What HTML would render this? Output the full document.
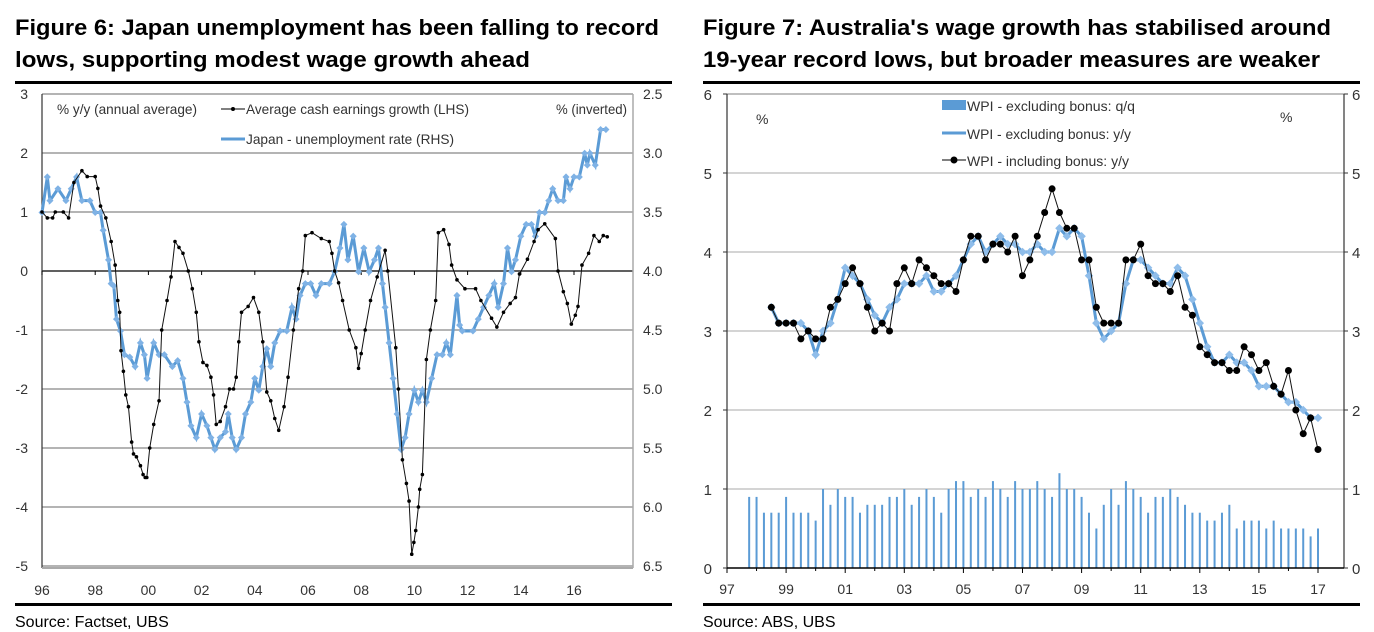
<!DOCTYPE html>
<html><head><meta charset="utf-8"><style>
body{margin:0;background:#fff;}
svg{display:block;font-family:"Liberation Sans",sans-serif;}
</style></head><body>
<svg id="root" width="1374" height="632" viewBox="0 0 1374 632">
<g font-weight="bold" font-size="22">
<text x="15" y="35" textLength="644" lengthAdjust="spacingAndGlyphs">Figure 6: Japan unemployment has been falling to record</text>
<text x="15" y="67" textLength="515" lengthAdjust="spacingAndGlyphs">lows, supporting modest wage growth ahead</text>
</g>
<g font-weight="bold" font-size="22">
<text x="703" y="35" textLength="628" lengthAdjust="spacingAndGlyphs">Figure 7: Australia's wage growth has stabilised around</text>
<text x="703" y="67" textLength="617" lengthAdjust="spacingAndGlyphs">19-year record lows, but broader measures are weaker</text>
</g>
<rect x="15" y="81" width="657" height="3" fill="#000"/>
<rect x="703" y="81" width="657" height="3" fill="#000"/>
<rect x="15" y="603" width="657" height="3" fill="#000"/>
<rect x="703" y="603" width="657" height="3" fill="#000"/>
<text x="15" y="627" font-size="16">Source:  Factset, UBS</text>
<text x="703" y="627" font-size="16">Source:  ABS, UBS</text>
<g id="c1"></g>
<g id="c2"></g>
</svg>
<script>
// ---- Chart 1 data ----
const earnDates=[1996.0,1996.2,1996.4,1996.5,1996.8,1997.0,1997.2,1997.5,1997.7,1998.0,1998.1,1998.2,1998.4,1998.6,1998.75,1998.85,1998.92,1998.97,1999.06,1999.15,1999.25,1999.37,1999.44,1999.55,1999.7,1999.8,1999.88,1999.94,2000.05,2000.2,2000.4,2000.5,2000.7,2000.85,2001.0,2001.15,2001.3,2001.5,2001.65,2001.8,2001.9,2002.05,2002.2,2002.35,2002.45,2002.55,2002.7,2002.9,2003.05,2003.2,2003.3,2003.4,2003.5,2003.75,2003.95,2004.15,2004.3,2004.45,2004.6,2004.75,2004.9,2005.1,2005.25,2005.45,2005.65,2005.8,2005.9,2006.15,2006.5,2006.8,2006.9,2007.0,2007.15,2007.3,2007.55,2007.8,2007.9,2008.0,2008.15,2008.35,2008.6,2008.9,2009.0,2009.3,2009.4,2009.55,2009.7,2009.8,2009.9,2009.98,2010.05,2010.15,2010.2,2010.3,2010.45,2010.6,2010.8,2010.9,2011.1,2011.3,2011.4,2011.6,2011.9,2012.3,2012.5,2012.9,2013.1,2013.35,2013.6,2013.8,2013.95,2014.25,2014.5,2014.65,2014.9,2015.3,2015.4,2015.6,2015.75,2015.9,2016.05,2016.15,2016.3,2016.55,2016.75,2016.95,2017.1,2017.25];
const earnings=[1.0,0.9,0.9,1.0,1.0,0.9,1.5,1.7,1.6,1.6,1.4,1.1,0.9,0.5,0.1,-0.5,-0.7,-1.35,-1.7,-2.1,-2.3,-2.9,-3.1,-3.15,-3.3,-3.45,-3.5,-3.5,-3.0,-2.6,-2.2,-1.0,-0.5,-0.1,0.5,0.4,0.3,0.0,-0.3,-0.7,-1.2,-1.55,-1.6,-1.8,-2.1,-2.6,-2.55,-2.3,-2.0,-2.0,-1.8,-1.2,-0.7,-0.6,-0.45,-0.7,-1.2,-2.05,-2.2,-2.5,-2.7,-2.3,-1.8,-1.0,-0.3,0.0,0.6,0.65,0.55,0.5,0.3,0.0,-0.2,-0.5,-1.0,-1.3,-1.65,-1.4,-1.0,-0.5,-0.1,0.35,0.0,-1.3,-2.0,-3.2,-3.6,-3.9,-4.8,-4.6,-4.4,-4.0,-3.7,-3.45,-1.5,-1.0,-0.5,0.65,0.7,0.45,0.1,-0.15,-0.3,-0.3,-0.5,-0.8,-0.95,-0.7,-0.55,-0.45,-0.05,0.2,0.5,0.7,0.8,0.55,0.0,-0.35,-0.55,-0.9,-0.75,-0.6,0.1,0.3,0.6,0.5,0.6,0.58];
const unempDates=[1996.0,1996.2,1996.3,1996.6,1996.9,1997.1,1997.3,1997.5,1997.8,1998.0,1998.2,1998.3,1998.5,1998.6,1998.7,1998.8,1998.95,1999.1,1999.3,1999.5,1999.7,1999.85,1999.95,2000.2,2000.4,2000.6,2000.9,2001.1,2001.3,2001.45,2001.6,2001.8,2002.0,2002.2,2002.35,2002.5,2002.7,2002.9,2003.0,2003.15,2003.3,2003.5,2003.65,2003.85,2004.0,2004.15,2004.3,2004.45,2004.6,2004.75,2004.95,2005.2,2005.4,2005.55,2005.7,2005.9,2006.1,2006.3,2006.5,2006.8,2007.0,2007.2,2007.35,2007.5,2007.7,2007.9,2008.1,2008.3,2008.5,2008.65,2008.8,2008.9,2009.05,2009.2,2009.35,2009.5,2009.65,2009.8,2010.0,2010.15,2010.3,2010.45,2010.65,2010.85,2011.05,2011.2,2011.35,2011.6,2011.7,2011.8,2012.2,2012.4,2012.6,2012.8,2013.0,2013.15,2013.35,2013.5,2013.65,2013.8,2014.0,2014.2,2014.4,2014.55,2014.7,2014.9,2015.05,2015.2,2015.4,2015.6,2015.7,2015.85,2016.0,2016.2,2016.4,2016.5,2016.6,2016.8,2017.0,2017.2];
const unemp=[3.5,3.2,3.4,3.3,3.4,3.3,3.2,3.4,3.4,3.5,3.5,3.65,3.9,4.1,4.12,4.4,4.5,4.7,4.72,4.8,4.6,4.7,4.9,4.6,4.7,4.7,4.8,4.75,4.9,5.1,5.3,5.4,5.2,5.3,5.4,5.5,5.4,5.35,5.2,5.4,5.5,5.4,5.2,5.1,4.9,5.0,4.8,4.65,4.8,4.6,4.5,4.5,4.3,4.4,4.2,4.1,4.1,4.2,4.1,4.1,4.0,3.8,3.6,3.9,3.7,4.0,3.8,4.0,3.9,3.8,4.1,4.3,4.6,4.9,5.2,5.5,5.4,5.2,5.0,5.1,5.0,5.1,4.9,4.7,4.7,4.6,4.7,4.2,4.45,4.5,4.5,4.4,4.3,4.2,4.1,4.3,4.1,3.8,4.0,3.9,3.7,3.6,3.6,3.7,3.5,3.5,3.4,3.3,3.4,3.4,3.2,3.3,3.2,3.2,3.0,3.1,3.0,3.1,2.8,2.8];
const c1LeftTicks=[3,2,1,0,-1,-2,-3,-4,-5];
const c1RightTicks=["2.5","3.0","3.5","4.0","4.5","5.0","5.5","6.0","6.5"];
const c1XTicks=["96","98","00","02","04","06","08","10","12","14","16"];
// ---- Chart 2 data ----
const qqStart=1997.75;
const wpiQQ=[0.9,0.9,0.7,0.7,0.7,0.9,0.7,0.7,0.7,0.6,1.0,0.8,1.0,0.9,0.9,0.7,0.8,0.8,0.8,0.9,0.9,1.0,0.8,0.9,1.0,0.9,0.7,1.0,1.1,1.1,0.9,1.0,0.9,1.1,1.0,0.9,1.1,1.0,1.0,1.1,1.0,0.9,1.2,1.0,1.0,0.9,0.7,0.5,0.8,1.0,0.8,1.1,1.0,0.9,0.7,0.9,0.9,1.0,0.9,0.8,0.7,0.7,0.6,0.6,0.7,0.8,0.5,0.6,0.6,0.6,0.5,0.6,0.5,0.5,0.5,0.5,0.4,0.5];
const yyStart=1998.5;
const wpiExYY=[3.3,3.1,3.1,3.1,3.1,3.0,2.7,3.0,3.1,3.4,3.8,3.7,3.6,3.4,3.2,3.1,3.3,3.4,3.6,3.6,3.6,3.7,3.5,3.5,3.6,3.7,3.9,4.1,4.2,4.0,4.1,4.2,4.1,4.1,4.0,4.0,4.1,4.0,4.0,4.3,4.2,4.3,4.2,3.7,3.1,2.9,3.0,3.1,3.6,3.9,3.9,3.8,3.7,3.6,3.6,3.8,3.7,3.4,3.1,2.8,2.6,2.6,2.7,2.6,2.6,2.5,2.3,2.3,2.3,2.2,2.1,2.1,2.0,1.9,1.9];
const wpiInYY=[3.3,3.1,3.1,3.1,2.9,3.0,2.9,2.9,3.3,3.4,3.6,3.8,3.6,3.3,3.0,3.1,3.0,3.6,3.8,3.6,3.9,3.8,3.7,3.6,3.6,3.5,3.9,4.2,4.2,3.9,4.1,4.1,4.0,4.2,3.7,3.9,4.2,4.5,4.8,4.5,4.3,4.3,3.9,3.9,3.3,3.1,3.1,3.1,3.9,3.9,4.1,3.7,3.6,3.6,3.5,3.7,3.3,3.2,2.8,2.7,2.6,2.6,2.5,2.5,2.8,2.7,2.5,2.6,2.3,2.2,2.5,2.0,1.7,1.9,1.5];
const c2Ticks=["0","1","2","3","4","5","6"];
const c2XTicks=["97","99","01","03","05","07","09","11","13","15","17"];

const NS="http://www.w3.org/2000/svg";
function mk(parent,tag,attrs,text){const e=document.createElementNS(NS,tag);for(const k in attrs)e.setAttribute(k,attrs[k]);if(text!==undefined)e.textContent=text;parent.appendChild(e);return e;}

// ---------- Chart 1 ----------
(function(){
const g=document.getElementById('c1');
const L=42,R=633,T=94,B=568;
const xs=y=>L+(y-1996)*26.6;
const yl=v=>271-59*v;
const yr=u=>94+(u-2.5)*118.5;
c1LeftTicks.forEach((v,i)=>{
  const y=yl(v);
  const ln=mk(g,'line',{x1:L,x2:R,y1:y,y2:y,stroke:v===0?'#000':'#b4b4b4','stroke-width':v===0?1.3:2});
  
  
  const t=mk(g,'text',{x:28,y:y+5,'font-size':14,'text-anchor':'end',fill:'#333'},String(v));
  
  
  const t2=mk(g,'text',{x:643,y:y+5,'font-size':14,fill:'#333'},c1RightTicks[i]);
  
  
});
mk(g,'line',{x1:L,x2:L,y1:T,y2:B,stroke:'#333','stroke-width':1.2});
mk(g,'line',{x1:R,x2:R,y1:T,y2:B,stroke:'#aaa','stroke-width':1.5});
mk(g,'line',{x1:L,x2:R,y1:B,y2:B,stroke:'#aaa','stroke-width':2});
c1XTicks.forEach((lab,i)=>{
  const x=xs(1996+2*i);
  mk(g,'line',{x1:x,x2:x,y1:271,y2:275,stroke:'#000'});
  const t=mk(g,'text',{x:x,y:595,'font-size':14,'text-anchor':'middle',fill:'#333'},lab);
  
  
});
// unemployment line
const up=unempDates.map((d,i)=>[xs(d),yr(unemp[i])]);
const ul=mk(g,'polyline',{points:up.map(p=>p.join(',')).join(' '),fill:'none',stroke:'#5b9bd5','stroke-width':3});


up.forEach(p=>{const m=mk(g,'rect',{x:p[0]-2.5,y:p[1]-2.5,width:5,height:5,fill:'#7fb2e5',transform:`rotate(45 ${p[0]} ${p[1]})`});
  
  });
// earnings line
const ep=earnDates.map((d,i)=>[xs(d),yl(earnings[i])]).sort((a,b)=>a[0]-b[0]);
const el=mk(g,'polyline',{points:ep.map(p=>p.join(',')).join(' '),fill:'none',stroke:'#111','stroke-width':1});


ep.forEach(p=>{const m=mk(g,'circle',{cx:p[0],cy:p[1],r:1.8,fill:'#000'});
  
  });
// legend
const lg=mk(g,'g',{});


mk(lg,'text',{x:57,y:114,'font-size':14,fill:'#333',textLength:140,lengthAdjust:'spacingAndGlyphs'},'% y/y (annual average)');
mk(lg,'line',{x1:221,x2:245,y1:109,y2:109,stroke:'#000'});
mk(lg,'circle',{cx:233,cy:109,r:2,fill:'#000'});
mk(lg,'text',{x:246,y:114,'font-size':14,fill:'#333',textLength:223,lengthAdjust:'spacingAndGlyphs'},'Average cash earnings growth (LHS)');
mk(lg,'line',{x1:221,x2:245,y1:139,y2:139,stroke:'#5b9bd5','stroke-width':3});
mk(lg,'text',{x:246,y:144,'font-size':14,fill:'#333',textLength:208,lengthAdjust:'spacingAndGlyphs'},'Japan - unemployment rate (RHS)');
mk(lg,'text',{x:556,y:114,'font-size':14,fill:'#333',textLength:71,lengthAdjust:'spacingAndGlyphs'},'% (inverted)');
})();

// ---------- Chart 2 ----------
(function(){
const g=document.getElementById('c2');
const L=727,R=1344,T=94,B=568;
const xs=y=>L+(y-1997)*29.55;
const ys=v=>B-79*v;
c2Ticks.forEach(s=>{
  const v=+s,y=ys(v);
  if(v>0){const ln=mk(g,'line',{x1:L,x2:R,y1:y,y2:y,stroke:v===6?'#aaa':'#d4d4d4','stroke-width':v===6?1.5:2});
  
  }
  const t=mk(g,'text',{x:712,y:y+6,'font-size':15,'text-anchor':'end',fill:'#333'},s);
  
  
  const t2=mk(g,'text',{x:1352,y:y+6,'font-size':15,fill:'#333'},s);
  
  
  mk(g,'line',{x1:L-4,x2:L,y1:y,y2:y,stroke:'#333'});
  mk(g,'line',{x1:R,x2:R+4,y1:y,y2:y,stroke:'#333'});
});
mk(g,'line',{x1:L,x2:L,y1:T,y2:B,stroke:'#333','stroke-width':1.2});
mk(g,'line',{x1:R,x2:R,y1:T,y2:B,stroke:'#333','stroke-width':1.2});
c2XTicks.forEach((lab,i)=>{
  const x=xs(1997+2*i);
  mk(g,'line',{x1:x,x2:x,y1:B,y2:B+5,stroke:'#000'});
  const t=mk(g,'text',{x:x,y:594,'font-size':14,'text-anchor':'middle',fill:'#333'},lab);
  
  
});
for(let yv=1998;yv<=2017;yv+=2){const x=xs(yv);mk(g,'line',{x1:x,x2:x,y1:B,y2:B+3,stroke:'#000'});}
wpiQQ.forEach((v,i)=>{
  const x=xs(qqStart+i/4);
  const b=mk(g,'rect',{x:x-1,y:ys(v),width:2,height:B-ys(v),fill:'#5b9bd5'});
  
  
});
mk(g,'line',{x1:L,x2:R,y1:B,y2:B,stroke:'#000','stroke-width':1.5});
const ex=wpiExYY.map((v,i)=>[xs(yyStart+i/4),ys(v)]);
const exl=mk(g,'polyline',{points:ex.map(p=>p.join(',')).join(' '),fill:'none',stroke:'#5b9bd5','stroke-width':3});


ex.forEach(p=>{const m=mk(g,'rect',{x:p[0]-3,y:p[1]-3,width:6,height:6,fill:'#8fbdea',transform:`rotate(45 ${p[0]} ${p[1]})`});
  
  });
const inn=wpiInYY.map((v,i)=>[xs(yyStart+i/4),ys(v)]);
const inl=mk(g,'polyline',{points:inn.map(p=>p.join(',')).join(' '),fill:'none',stroke:'#111','stroke-width':1});


inn.forEach(p=>{const m=mk(g,'circle',{cx:p[0],cy:p[1],r:3.5,fill:'#000'});
  
  });
const lg=mk(g,'g',{});


mk(lg,'rect',{x:942,y:100,width:24,height:10,fill:'#5b9bd5'});
mk(lg,'text',{x:967,y:111,'font-size':14,fill:'#333',textLength:168,lengthAdjust:'spacingAndGlyphs'},'WPI - excluding bonus: q/q');
mk(lg,'line',{x1:942,x2:966,y1:133,y2:133,stroke:'#5b9bd5','stroke-width':3});
mk(lg,'text',{x:967,y:139,'font-size':14,fill:'#333',textLength:164,lengthAdjust:'spacingAndGlyphs'},'WPI - excluding bonus: y/y');
mk(lg,'line',{x1:942,x2:966,y1:160,y2:160,stroke:'#000'});
mk(lg,'circle',{cx:954,cy:160,r:3.5,fill:'#000'});
mk(lg,'text',{x:967,y:166,'font-size':14,fill:'#333',textLength:162,lengthAdjust:'spacingAndGlyphs'},'WPI - including bonus: y/y');
mk(lg,'text',{x:756,y:124,'font-size':14,fill:'#333'},'%');
mk(lg,'text',{x:1280,y:122,'font-size':14,fill:'#333'},'%');
})();
</script>
</body></html>
